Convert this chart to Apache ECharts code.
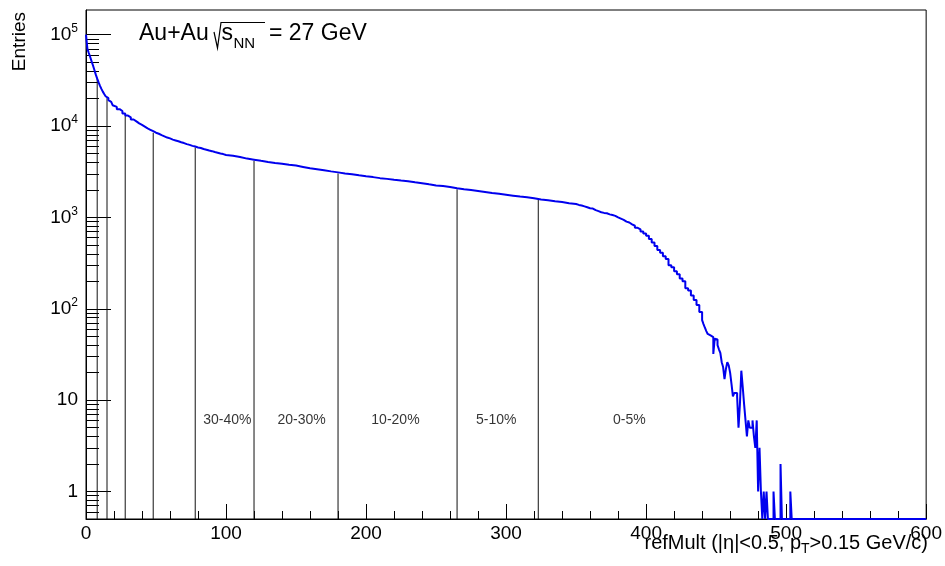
<!DOCTYPE html>
<html>
<head>
<meta charset="utf-8">
<script src="https://cdn.jsdelivr.net/npm/echarts@6/dist/echarts.min.js"></script>
<style>
html, body { margin: 0; padding: 0; background: #fff; }
#chart { width: 945px; height: 566px; }
</style>
</head>
<body>
<div id="chart"></div>
<script>
// refMult histogram
// bins 0..19, width 1
var lowBins = [100000, 70000, 63000, 57000, 51000, 46000, 41000, 36500, 33000, 30000,
    27500, 25500, 23800, 22400, 21200, 20200, 19200, 18400, 17600, 16900];
// bins 20..98, width 2
var earlyBins = [16200, 15300, 14600, 13700, 13000, 12450, 11800, 11250, 10700, 10300,
    9850, 9420, 9100, 8780, 8450, 8230, 7950, 7720, 7480, 7320,
    7100, 6960, 6820, 6640, 6510, 6340, 6220, 6070, 5960, 5820,
    5740, 5600, 5510, 5390, 5310, 5190, 5110, 5000, 4930, 4820];
// bins 100..345, width 5
var midBins = [4720, 4580, 4400, 4280, 4160, 4050, 3950, 3870, 3770, 3690,
    3570, 3450, 3370, 3290, 3190, 3110, 3030, 2970, 2890, 2820,
    2760, 2690, 2640, 2580, 2530, 2490, 2420, 2370, 2300, 2240,
    2200, 2150, 2080, 2030, 1990, 1950, 1900, 1850, 1810, 1770,
    1730, 1690, 1660, 1620, 1570, 1540, 1500, 1470, 1430, 1400];
// bins 350..398, width 2
var kneeBins = [1370, 1350, 1320, 1290, 1260, 1250, 1200, 1170, 1140, 1120,
    1110, 1080, 1060, 1040, 1000, 970, 940, 900, 880, 840,
    810, 770, 740, 700, 665];
// bins 400..438, width 2
var fallBins = [630, 580, 530, 485, 440, 410, 375, 350, 300, 285,
    258, 238, 215, 200, 168, 158, 140, 125, 110, 92];
// bins 440..504, width 1
var tailBins = [75, 68, 62, 57, 53, 51, 50, 49, 32, 47,
    46, 40, 36, 33, 26, 23, 17, 22, 26, 24,
    20, 15, 11, 12, 12, 11, 5, 9, 21, 14,
    9, 6, 4, 6, 5, 5, 6, 4, 3, 6,
    1, 3, 1, 0, 1, 0, 1, 0, 0, 0,
    0, 1, 0, 0, 0, 0, 2, 0, 0, 0,
    0, 0, 0, 1, 0];

// centrality cuts (refMult) and the class labels between them
var cuts = [8, 15, 28, 48, 78, 120, 180, 265, 323];
var classLabels = ['30-40%', '20-30%', '10-20%', '5-10%', '0-5%'];
var classLabelX = [101, 154, 221, 293, 388];
var classLabelY = 6;

var xTicks = [0, 100, 200, 300, 400, 500, 600];
var yDecades = [0, 1, 2, 3, 4, 5];

var yMin = Math.log10(0.5);
var yMax = 5.27;

var bins = [];
function addBins(start, width, vals) {
    vals.forEach(function (v, i) { bins.push([start + i * width, v]); });
}
addBins(0, 1, lowBins);
addBins(20, 2, earlyBins);
addBins(100, 5, midBins);
addBins(350, 2, kneeBins);
addBins(400, 2, fallBins);
addBins(440, 1, tailBins);
bins.push([505, 0]);
bins.push([600, 0]);

function ly(v) {
    return v > 0 ? Math.max(Math.log10(v), yMin) : yMin;
}
function valueAt(x) {
    var v = 0;
    for (var i = 0; i < bins.length; i++) {
        if (bins[i][0] <= x) v = bins[i][1];
    }
    return v;
}

var histData = bins.map(function (b) { return [b[0], ly(b[1])]; });

var minorVals = [];
for (var d = -1; d <= 5; d++) {
    for (var k = 2; k <= 9; k++) {
        var lv = Math.log10(k) + d;
        if (lv > yMin + 0.001 && lv < yMax) minorVals.push(lv);
    }
}

var FONT = 'Liberation Sans';
var series = [];
cuts.forEach(function (c) {
    series.push({
        type: 'line',
        data: [[c, yMin], [c, ly(valueAt(c))]],
        symbol: 'none',
        silent: true,
        lineStyle: { color: '#111', width: 1 },
        z: 2
    });
});
series.push({
    type: 'line',
    data: histData,
    step: 'end',
    symbol: 'none',
    sampling: null,
    lineStyle: { color: '#0000ee', width: 2 },
    z: 3
});
series.push({
    type: 'scatter',
    data: classLabels.map(function (t, i) {
        return { name: t, value: [classLabelX[i], Math.log10(classLabelY)] };
    }),
    symbolSize: 1,
    itemStyle: { color: 'rgba(0,0,0,0)' },
    label: {
        show: true,
        position: 'inside',
        formatter: '{b}',
        color: '#000',
        fontFamily: FONT,
        fontSize: 14
    },
    z: 4
});

var myChart = echarts.init(document.getElementById('chart'));
var option = {
    animation: false,
    backgroundColor: '#fff',
    grid: {
        left: 86, right: 16, top: 10, bottom: 47,
        show: true, borderColor: '#000', borderWidth: 1
    },
    xAxis: {
        type: 'value',
        min: 0, max: 600, interval: 100,
        axisLine: { show: true, onZero: false, lineStyle: { color: '#000', width: 1 } },
        axisTick: { inside: true, length: 15, lineStyle: { color: '#000' } },
        minorTick: { show: true, splitNumber: 5, length: 8, lineStyle: { color: '#000' } },
        splitLine: { show: false },
        axisLabel: {
            customValues: xTicks,
            color: '#000', fontFamily: FONT, fontSize: 19, margin: 5,
            showMaxLabel: true
        }
    },
    yAxis: [{
        type: 'value',
        min: yMin, max: yMax,
        axisLine: { show: true, onZero: false, lineStyle: { color: '#000', width: 1 } },
        axisTick: { inside: true, length: 25, customValues: yDecades, lineStyle: { color: '#000' } },
        splitLine: { show: false },
        axisLabel: {
            customValues: yDecades,
            margin: 8,
            color: '#000', fontFamily: FONT, fontSize: 19,
            formatter: function (v) {
                var n = Math.round(v);
                if (n === 0) return '{b|1}';
                if (n === 1) return '{b|10}';
                return '{b|10}{s|' + n + '}';
            },
            rich: {
                b: { fontFamily: FONT, fontSize: 19, color: '#000', lineHeight: 24 },
                s: { fontFamily: FONT, fontSize: 12, color: '#000', lineHeight: 14, verticalAlign: 'top' }
            }
        }
    }, {
        type: 'value',
        min: yMin, max: yMax,
        position: 'left',
        axisLine: { show: false, onZero: false },
        axisTick: { show: true, inside: true, length: 13, customValues: minorVals, lineStyle: { color: '#000' } },
        axisLabel: { show: false },
        splitLine: { show: false }
    }],
    graphic: [
        {
            type: 'text', x: 20, y: 12, rotation: Math.PI / 2,
            style: { text: 'Entries', font: '19px ' + FONT, fill: '#000', align: 'right', verticalAlign: 'middle' }
        },
        {
            type: 'text', x: 928, y: 543,
            style: {
                text: 'refMult (|η|<0.5, p{sub|T}>0.15 GeV/c)',
                font: '20px ' + FONT, fill: '#000', align: 'right', verticalAlign: 'middle',
                rich: { sub: { font: '14px ' + FONT, fill: '#000', padding: [12, 0, 0, 0] } }
            }
        },
        {
            type: 'text', x: 139, y: 33.5,
            style: { text: 'Au+Au', font: '23px ' + FONT, fill: '#000', align: 'left', verticalAlign: 'middle' }
        },
        {
            type: 'polyline',
            shape: { points: [[214, 32], [217.5, 48], [221, 22.5], [265, 22.5]] },
            style: { stroke: '#000', lineWidth: 1.2, fill: null }
        },
        {
            type: 'text', x: 221.5, y: 33.5,
            style: { text: 's', font: '23px ' + FONT, fill: '#000', align: 'left', verticalAlign: 'middle' }
        },
        {
            type: 'text', x: 233.5, y: 44,
            style: { text: 'NN', font: '15px ' + FONT, fill: '#000', align: 'left', verticalAlign: 'middle' }
        },
        {
            type: 'text', x: 269, y: 33.5,
            style: { text: '= 27 GeV', font: '23px ' + FONT, fill: '#000', align: 'left', verticalAlign: 'middle' }
        }
    ],
    series: series
};
myChart.setOption(option);
</script>
</body>
</html>
